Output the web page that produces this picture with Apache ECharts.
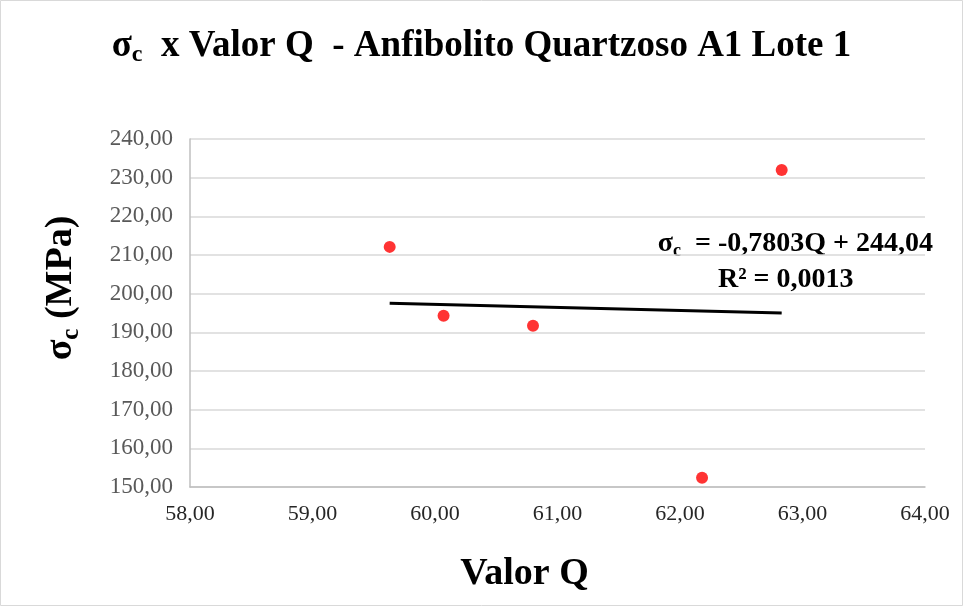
<!DOCTYPE html>
<html lang="pt">
<head>
<meta charset="utf-8">
<title>σc x Valor Q</title>
<script src="https://cdn.jsdelivr.net/npm/echarts@6/dist/echarts.min.js"></script>
<style>
  html, body { margin: 0; padding: 0; background: #fff; }
  #chart { width: 963px; height: 606px; }
</style>
</head>
<body>
<div id="chart"></div>
<script>
// dados
var valorQ = [59.63, 60.07, 60.80, 62.18, 62.83];
var sigmaC = [212.1, 194.3, 191.7, 152.4, 232.0];
// linha de tendência (equação do gráfico)
var trendSlope = -0.7803;
var trendIntercept = 244.04;
var trendLabel = '= -0,7803Q + 244,04';
var r2Label = 'R² = 0,0013';

var fmt = function (v) { return v.toFixed(2).replace('.', ','); };
var serif = '"Liberation Serif", "Times New Roman", serif';

var pts = valorQ.map(function (q, i) { return [q, sigmaC[i]]; });
var qMin = Math.min.apply(null, valorQ), qMax = Math.max.apply(null, valorQ);
var trend = [[qMin, trendIntercept + trendSlope * qMin], [qMax, trendIntercept + trendSlope * qMax]];

var chart = echarts.init(document.getElementById('chart'), null, { renderer: 'canvas' });
chart.setOption({
  backgroundColor: '#fff',
  animation: false,
  title: {
    text: '{s|σ}{sub|c}{t|  x Valor Q  - Anfibolito Quartzoso A1 Lote 1}',
    left: 'center',
    top: 20,
    textStyle: {
      rich: {
        s: { fontFamily: serif, fontWeight: 'bold', fontSize: 37, color: '#000' },
        sub: { fontFamily: serif, fontWeight: 'bold', fontSize: 24, color: '#000', padding: [18, 0, 0, 0] },
        t: { fontFamily: serif, fontWeight: 'bold', fontSize: 37, color: '#000' }
      }
    }
  },
  grid: { left: 190, right: 38, top: 139, bottom: 119 },
  xAxis: {
    type: 'value',
    min: 58, max: 64, interval: 1,
    name: 'Valor Q',
    nameLocation: 'middle',
    nameGap: 68,
    nameTextStyle: { fontFamily: serif, fontWeight: 'bold', fontSize: 38, color: '#000', padding: [0, 66, 0, 0] },
    axisLine: { show: true, lineStyle: { color: '#bfbfbf', width: 1.5 } },
    axisTick: { show: false },
    splitLine: { show: false },
    axisLabel: { formatter: fmt, fontFamily: serif, fontSize: 22, color: '#262626', margin: 16 }
  },
  yAxis: {
    type: 'value',
    min: 150, max: 240, interval: 10,
    name: '{s|σ}{sub|c}{t| (MPa)}',
    nameLocation: 'middle',
    nameGap: 106,
    nameRotate: 90,
    nameTextStyle: {
      padding: [0, 0, 0, 50],
      rich: {
        s: { fontFamily: serif, fontWeight: 'bold', fontSize: 38, color: '#000' },
        sub: { fontFamily: serif, fontWeight: 'bold', fontSize: 25, color: '#000', padding: [20, 0, 0, 0] },
        t: { fontFamily: serif, fontWeight: 'bold', fontSize: 38, color: '#000' }
      }
    },
    axisLine: { show: true, lineStyle: { color: '#bfbfbf', width: 1.5 } },
    axisTick: { show: false },
    splitLine: { show: true, lineStyle: { color: '#d9d9d9', width: 1.5 } },
    axisLabel: { formatter: fmt, fontFamily: serif, fontSize: 23, color: '#595959', margin: 17 }
  },
  series: [
    {
      name: 'σc',
      type: 'scatter',
      data: pts,
      symbol: 'circle',
      symbolSize: 12,
      itemStyle: { color: '#ff0000' },
      z: 3
    },
    {
      name: 'Tendência',
      type: 'line',
      data: trend,
      symbol: 'none',
      lineStyle: { color: '#000', width: 3 },
      z: 2
    }
  ],
  graphic: [
    {
      type: 'rect',
      shape: { x: 0.5, y: 0.5, width: 962, height: 605 },
      style: { fill: null, stroke: '#d9d9d9', lineWidth: 1 },
      silent: true
    },
    {
      type: 'text',
      right: 30,
      top: 230,
      style: {
        text: '{s|σ}{sub|c}{t|  ' + trendLabel + '}',
        rich: {
          s: { fontFamily: serif, fontWeight: 'bold', fontSize: 28, fill: '#000' },
          sub: { fontFamily: serif, fontWeight: 'bold', fontSize: 18, fill: '#000', padding: [14, 0, 0, 0] },
          t: { fontFamily: serif, fontWeight: 'bold', fontSize: 28, fill: '#000' }
        }
      }
    },
    {
      type: 'text',
      left: 718,
      top: 266,
      style: {
        text: r2Label,
        font: 'bold 28px ' + serif,
        fill: '#000'
      }
    }
  ]
});
</script>
</body>
</html>
